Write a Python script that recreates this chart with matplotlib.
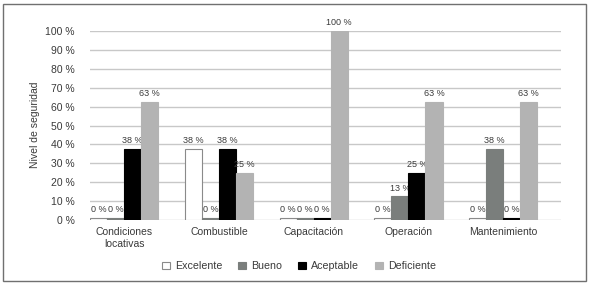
import matplotlib.pyplot as plt
import numpy as np
from matplotlib.patches import Rectangle

plt.rcParams["font.family"] = ["Liberation Sans", "DejaVu Sans"]

categories = ["Condiciones\nlocativas", "Combustible", "Capacitación", "Operación", "Mantenimiento"]
series = ["Excelente", "Bueno", "Aceptable", "Deficiente"]
excelente = [0, 37.5, 0, 0, 0]
bueno = [0, 0, 0, 12.5, 37.5]
aceptable = [37.5, 37.5, 0, 25, 0]
deficiente = [62.5, 25, 100, 62.5, 62.5]

values = [excelente, bueno, aceptable, deficiente]
face = ["white", "#7a7e7c", "black", "#b3b3b3"]
edge = ["#8a8a8a", "#7a7e7c", "black", "#b3b3b3"]
text_color = "#3a3a3a"

fig = plt.figure(figsize=(5.9, 2.85), dpi=100)
ax = fig.add_axes([90 / 590, 1 - 220 / 285, 471 / 590, 189 / 285])

# outer frame
fig.patches.append(Rectangle((3 / 590, 4 / 285), 583 / 590, 277 / 285,
                             transform=fig.transFigure, fill=False,
                             edgecolor="#707070", linewidth=1.0))

x = np.arange(len(categories))
width = 0.18
for i, (name, vals) in enumerate(zip(series, values)):
    pos = x + (i - 1.5) * width
    shown = np.maximum(vals, 1.0)
    ax.bar(pos, shown, width, color=face[i], edgecolor=edge[i],
           linewidth=0.8, label=name, zorder=3)
    for p, v, s in zip(pos, vals, shown):
        ax.text(p, s + 2, f"{int(v + 0.5)} %", ha="center", va="bottom",
                fontsize=6.5, color=text_color)

ax.set_ylim(0, 100)
ax.set_xlim(-0.36, 4.61)
ax.set_yticks(range(0, 101, 10))
ax.set_yticklabels([f"{t} %" for t in range(0, 101, 10)])
ax.set_xticks(x)
ax.set_xticklabels(categories)
ax.tick_params(length=0, labelsize=7.5, colors=text_color)
ax.tick_params(axis="y", pad=11)
ax.tick_params(axis="x", pad=5)
ax.grid(True, axis="y", color="#c8c8c8", linewidth=1.0, zorder=0)
for s in ax.spines.values():
    s.set_visible(False)

fig.text(35 / 590, 1 - 125 / 285, "Nivel de seguridad", rotation=90,
         ha="center", va="center", fontsize=7.5, color=text_color)

leg = fig.legend(loc="center", bbox_to_anchor=(299 / 590, 1 - 266 / 285), ncol=4,
                 frameon=False, fontsize=7.7, handlelength=0.7, handleheight=0.7,
                 columnspacing=1.5, handletextpad=0.5)
for t in leg.get_texts():
    t.set_color(text_color)

fig.savefig("out.png", dpi=100)
